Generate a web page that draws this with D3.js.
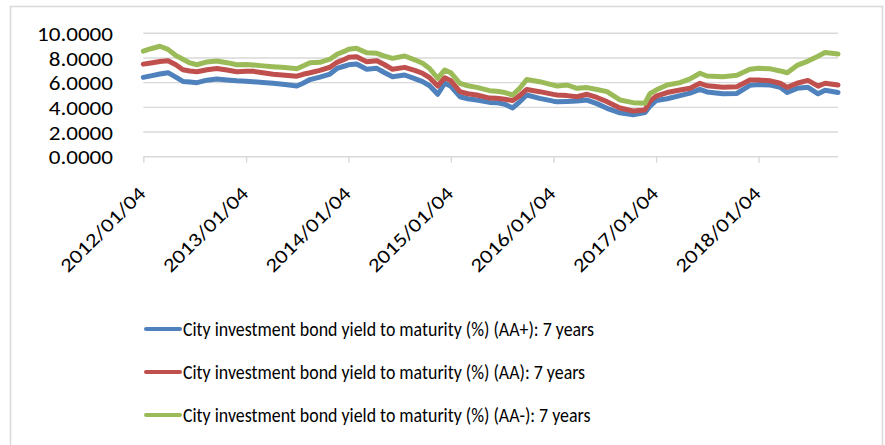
<!DOCTYPE html>
<html>
<head>
<meta charset="utf-8">
<script src="https://cdn.jsdelivr.net/npm/d3@7/dist/d3.min.js"></script>
<style>
  html, body { margin: 0; padding: 0; background: #fff; }
  svg { display: block; }
</style>
</head>
<body>
<svg id="chart" width="885" height="445"></svg>
<script>
const dates = ["2012-01-04","2012-01-31","2012-03-03","2012-04-01","2012-04-29","2012-05-24","2012-06-18","2012-07-13","2012-08-18","2012-09-22",
"2012-10-28","2012-12-02","2013-01-04","2013-01-29","2013-03-05","2013-04-10","2013-05-23","2013-07-04","2013-07-26","2013-08-20",
"2013-09-24","2013-10-30","2013-11-24","2013-12-22","2014-01-04","2014-02-02","2014-03-10","2014-04-15","2014-05-13","2014-06-10",
"2014-07-23","2014-08-28","2014-09-25","2014-10-20","2014-11-18","2014-12-13","2015-01-04","2015-02-05","2015-03-05","2015-04-06",
"2015-05-22","2015-06-16","2015-07-15","2015-08-12","2015-09-06","2015-10-01","2015-11-16","2016-01-04","2016-01-17","2016-02-22",
"2016-03-28","2016-05-03","2016-06-07","2016-07-13","2016-08-28","2016-10-14","2016-11-25","2016-12-13","2017-01-04","2017-02-12",
"2017-03-30","2017-05-05","2017-06-09","2017-07-04","2017-08-30","2017-10-19","2017-12-04","2018-01-04","2018-02-15","2018-03-22",
"2018-04-16","2018-05-21","2018-06-29","2018-08-04","2018-08-29","2018-10-14"];

const aaPlus = [6.43,6.55,6.70,6.81,6.45,6.10,6.05,6.00,6.20,6.30,
6.22,6.15,6.12,6.08,6.02,5.95,5.85,5.73,5.95,6.25,
6.45,6.70,7.15,7.35,7.45,7.51,7.08,7.16,6.80,6.48,
6.62,6.32,6.08,5.75,5.06,5.95,5.70,4.86,4.70,4.59,
4.40,4.38,4.25,3.95,4.45,5.00,4.73,4.50,4.46,4.48,
4.51,4.59,4.30,3.92,3.55,3.40,3.57,4.10,4.55,4.70,
4.95,5.15,5.46,5.25,5.10,5.13,5.78,5.85,5.80,5.62,
5.20,5.54,5.62,5.10,5.38,5.20];

const aa = [7.50,7.60,7.72,7.78,7.45,7.05,6.95,6.88,7.05,7.15,
7.02,6.88,6.92,6.92,6.80,6.68,6.60,6.52,6.68,6.80,
7.00,7.25,7.65,7.90,8.05,8.10,7.70,7.78,7.45,7.08,
7.24,7.00,6.76,6.40,5.73,6.40,6.15,5.27,5.10,5.00,
4.75,4.73,4.65,4.55,4.95,5.45,5.27,5.05,5.00,4.95,
4.86,5.06,4.80,4.46,3.95,3.70,3.78,4.50,4.90,5.20,
5.40,5.55,5.95,5.75,5.62,5.67,6.21,6.21,6.15,5.95,
5.62,5.95,6.18,5.72,5.95,5.81];

const aaMinus = [8.55,8.75,8.95,8.70,8.20,7.90,7.60,7.45,7.68,7.76,
7.62,7.45,7.48,7.43,7.36,7.29,7.22,7.12,7.35,7.62,
7.65,7.90,8.30,8.55,8.70,8.78,8.42,8.38,8.15,7.97,
8.16,7.85,7.57,7.15,6.35,7.03,6.80,5.95,5.75,5.62,
5.35,5.30,5.20,5.00,5.55,6.25,6.08,5.80,5.73,5.81,
5.54,5.60,5.45,5.27,4.60,4.38,4.33,5.10,5.40,5.81,
6.00,6.30,6.76,6.54,6.48,6.60,7.08,7.16,7.12,6.95,
6.80,7.40,7.75,8.15,8.45,8.32];

const seriesNames = [
  "City investment bond yield to maturity (%) (AA+): 7 years",
  "City investment bond yield to maturity (%) (AA): 7 years",
  "City investment bond yield to maturity (%) (AA-): 7 years"
];
const yTicks = [0, 2, 4, 6, 8, 10];
const xTickLabels = ["2012/01/04","2013/01/04","2014/01/04","2015/01/04","2016/01/04","2017/01/04","2018/01/04"];
const domainEnd = "2018-10-14";

const colors = ["#4F81BD", "#C0504D", "#9BBB59"];
const fontFam = "Carlito, Calibri, Lato, 'Liberation Sans', sans-serif";

const parseISO = d3.timeParse("%Y-%m-%d");
const parseLbl = d3.timeParse("%Y/%m/%d");
const svg = d3.select("#chart");

function stretch(sel, factor) {
  sel.each(function () {
    const w = this.getComputedTextLength();
    d3.select(this).attr("textLength", w * factor).attr("lengthAdjust", "spacingAndGlyphs");
  });
}

svg.append("rect").attr("x", 0).attr("y", 0).attr("width", 885).attr("height", 445).attr("fill", "#fff");
svg.append("rect").attr("x", 10.5).attr("y", 6.5).attr("width", 872).attr("height", 460)
  .attr("fill", "none").attr("stroke", "#D9D9D9").attr("stroke-width", 1.5);

const x = d3.scaleTime().domain([parseISO(dates[0]), parseISO(domainEnd)]).range([143.3, 838]);
const y = d3.scaleLinear().domain([0, 10]).range([156.7, 33.3]);

// gridlines
svg.append("g").selectAll("line").data(yTicks).join("line")
  .attr("x1", 143.3).attr("x2", 838)
  .attr("y1", d => y(d)).attr("y2", d => y(d))
  .attr("stroke", "#D9D9D9").attr("stroke-width", 1.4);

// y axis labels
const axisSize = 19.5;
const yAxis = d3.axisLeft(y).tickValues(yTicks).tickFormat(d3.format(".4f")).tickSize(0).tickPadding(0);
const yg = svg.append("g").attr("transform", "translate(113,0)").call(yAxis);
yg.select(".domain").remove();
yg.selectAll("text").attr("font-family", fontFam).attr("fill", "#000").attr("dy", "0.36em")
  .attr("font-size", axisSize);
const w10 = yg.selectAll("text").filter(d => d === 10).node().getComputedTextLength();
const axisFactor = 76 / w10;
stretch(yg.selectAll("text"), axisFactor);

// x axis
const xTickDates = xTickLabels.map(parseLbl);
const xAxis = d3.axisBottom(x).tickValues(xTickDates).tickFormat(d3.timeFormat("%Y/%m/%d")).tickSize(6);
const xg = svg.append("g").attr("transform", `translate(0,${y(0)})`).call(xAxis);
xg.select(".domain").remove();
xg.selectAll(".tick line").attr("stroke", "#D9D9D9").attr("stroke-width", 1.4);
xg.selectAll(".tick text")
  .attr("font-family", fontFam).attr("font-size", axisSize).attr("fill", "#000")
  .attr("text-anchor", "end").attr("y", 0).attr("dy", 0)
  .attr("transform", "translate(3,38) rotate(-45)");
stretch(xg.selectAll(".tick text"), axisFactor);

// lines
const allSeries = [aaPlus, aa, aaMinus];
const line = d3.line().x((d, i) => x(parseISO(dates[i]))).y(d => y(d));
svg.append("g").selectAll("path").data(allSeries).join("path")
  .attr("d", d => line(d))
  .attr("fill", "none")
  .attr("stroke", (d, i) => colors[i])
  .attr("stroke-width", 5)
  .attr("stroke-linejoin", "round")
  .attr("stroke-linecap", "round");

// legend
const legY = [329, 372, 415];
const lg = svg.append("g");
const items = lg.selectAll("g").data(seriesNames).join("g")
  .attr("transform", (d, i) => `translate(0,${legY[i]})`);
items.append("line").attr("x1", 146).attr("x2", 180).attr("y1", 0).attr("y2", 0)
  .attr("stroke", (d, i) => colors[i]).attr("stroke-width", 4).attr("stroke-linecap", "round");
const lt = items.append("text").attr("x", 183).attr("dy", "0.36em")
  .attr("font-family", fontFam).attr("font-size", 19.5).attr("fill", "#000")
  .text(d => d);
const wl = lt.filter((d, i) => i === 0).node().getComputedTextLength();
stretch(lt, 411 / wl);
</script>
</body>
</html>
